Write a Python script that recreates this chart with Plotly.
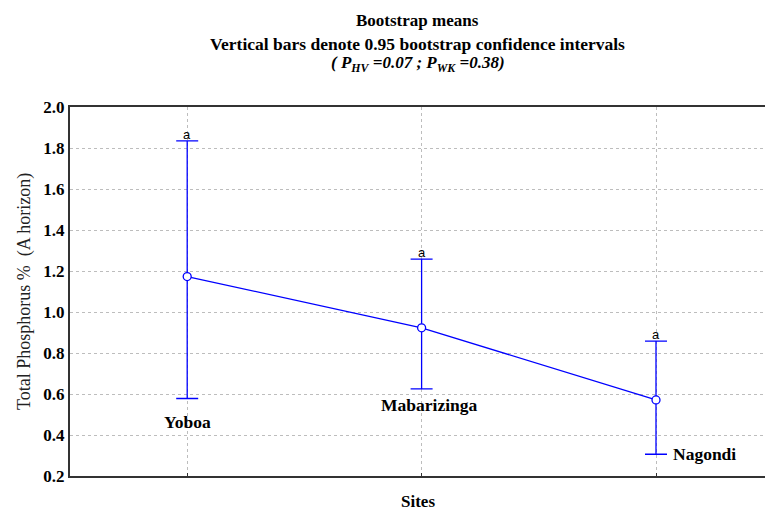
import plotly.graph_objects as go

# Bootstrap means of total phosphorus with 0.95 bootstrap CIs
sites = ["Yoboa", "Mabarizinga", "Nagondi"]
means = [1.173, 0.923, 0.571]
ci_upper = [1.835, 1.258, 0.858]
ci_lower = [0.578, 0.625, 0.306]
groups = ["a", "a", "a"]
y_ticks = [0.2, 0.4, 0.6, 0.8, 1.0, 1.2, 1.4, 1.6, 1.8, 2.0]

xpos = list(range(len(sites)))
blue = "#0000ff"
serif = "Liberation Serif, Times New Roman, serif"

fig = go.Figure()
fig.add_trace(go.Scatter(
    x=xpos, y=means, mode="lines+markers",
    line=dict(color=blue, width=1.3),
    marker=dict(symbol="circle", size=8, color="white",
                line=dict(color=blue, width=1.3)),
    error_y=dict(type="data", symmetric=False,
                 array=[u - m for u, m in zip(ci_upper, means)],
                 arrayminus=[m - l for m, l in zip(means, ci_lower)],
                 color=blue, thickness=1.3, width=11),
    showlegend=False,
))

annotations = []
# group letters above the upper whisker
for x, u, g in zip(xpos, ci_upper, groups):
    annotations.append(dict(x=x, y=u, text=g, showarrow=False, yanchor="bottom",
                            yshift=-3, font=dict(family="Liberation Sans, Arial", size=13, color="black")))

# site names placed next to the lower whiskers
label_style = [
    dict(xanchor="center", yanchor="top", xshift=0, yshift=-11),
    dict(xanchor="center", yanchor="top", xshift=7, yshift=-4),
    dict(xanchor="left", yanchor="middle", xshift=15, yshift=0),
]
for x, l, name, st in zip(xpos, ci_lower, sites, label_style):
    annotations.append(dict(x=x, y=l, text="<b>" + name + "</b>", showarrow=False,
                            font=dict(family=serif, size=17.5, color="black"), **st))

# titles
annotations += [
    dict(xref="paper", yref="paper", x=0.5, y=1, yshift=87, yanchor="middle",
         text="<b>Bootstrap means</b>", showarrow=False,
         font=dict(family=serif, size=17, color="black")),
    dict(xref="paper", yref="paper", x=0.5, y=1, yshift=63, yanchor="middle",
         text="<b>Vertical bars denote 0.95 bootstrap confidence intervals</b>", showarrow=False,
         font=dict(family=serif, size=17.5, color="black")),
    dict(xref="paper", yref="paper", x=0.5, y=1, yshift=43, yanchor="middle",
         text="<b><i>( P<sub>HV</sub> =0.07 ; P<sub>WK</sub> =0.38)</i></b>", showarrow=False,
         font=dict(family=serif, size=17, color="black")),
]

fig.update_layout(
    width=765, height=515,
    margin=dict(l=70, r=0, t=107, b=39),
    paper_bgcolor="white", plot_bgcolor="white",
    annotations=annotations,
    xaxis=dict(
        range=[-0.5, 2.465], tickvals=xpos, showticklabels=False,
        showgrid=True, gridcolor="#bdbdbd", griddash="dot", gridwidth=1,
        showline=True, linecolor="#333333", linewidth=2, mirror=True,
        ticks="inside", ticklen=3, tickcolor="#333333",
        zeroline=False,
    ),
    yaxis=dict(
        range=[0.2, 2.0], tickvals=y_ticks, ticktext=[f"{v:.1f}" for v in y_ticks],
        showgrid=True, gridcolor="#bdbdbd", griddash="dot", gridwidth=1,
        showline=True, linecolor="#333333", linewidth=2,
        ticks="", zeroline=False,
        tickfont=dict(family=serif, size=17, color="black", weight="bold"),
        title=dict(text="Total Phosphorus %  (A horizon)", font=dict(family=serif, size=18, color="#222222"), standoff=8),
    ),
)

# x-axis title drawn as a paper annotation below the plot area
fig.add_annotation(xref="paper", yref="paper", x=0.5, y=0, yshift=-25, yanchor="middle",
                   text="<b>Sites</b>", showarrow=False,
                   font=dict(family=serif, size=17, color="black"))

fig.write_html("out.html")
